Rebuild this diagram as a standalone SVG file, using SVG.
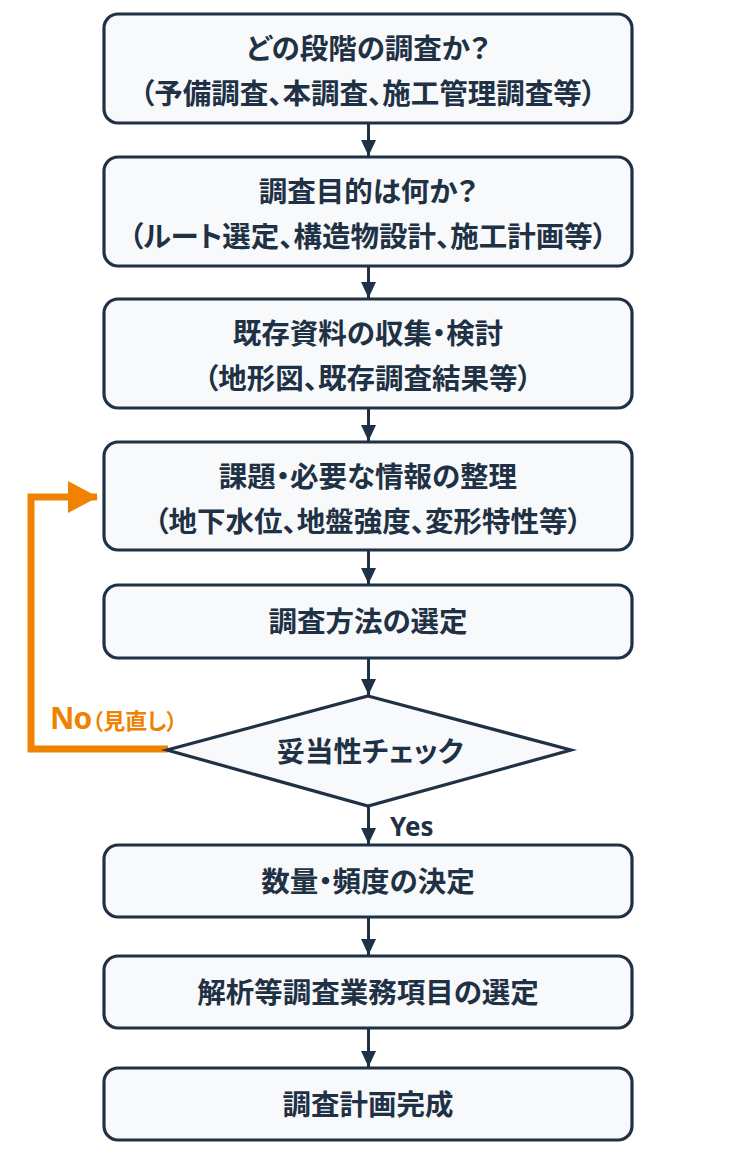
<svg xmlns="http://www.w3.org/2000/svg" width="736" height="1156" viewBox="0 0 736 1156">
<defs>
<style>
.box{fill:#f8f9fb;stroke:#1f3144;stroke-width:3.2}
.t{font-family:"Noto Sans CJK JP","Noto Sans",sans-serif;font-weight:700;font-size:28.5px;fill:#1f3144;text-anchor:middle;font-feature-settings:"palt" 1}
.conn{stroke:#1f3144;stroke-width:3;fill:none}
.no{font-family:"Noto Sans","Noto Sans CJK JP",sans-serif;font-weight:700;fill:#ef8200}
</style>
<marker id="ah" viewBox="0 0 16 15" refX="16" refY="7.5" markerWidth="16" markerHeight="15" markerUnits="userSpaceOnUse" orient="auto">
<path d="M0,0 L16,7.5 L0,15 Z" fill="#1f3144"/>
</marker>
<marker id="oh" viewBox="0 0 30 32" refX="29" refY="16" markerWidth="30" markerHeight="32" markerUnits="userSpaceOnUse" orient="auto">
<path d="M0,0 L30,16 L0,32 Z" fill="#ef8200"/>
</marker>
</defs>
<rect width="736" height="1156" fill="#ffffff"/>
<g id="connectors">
<line class="conn" x1="368.5" y1="124" x2="368.5" y2="156" marker-end="url(#ah)"/>
<line class="conn" x1="368.5" y1="267" x2="368.5" y2="298" marker-end="url(#ah)"/>
<line class="conn" x1="368.5" y1="409" x2="368.5" y2="441" marker-end="url(#ah)"/>
<line class="conn" x1="368.5" y1="551" x2="368.5" y2="584" marker-end="url(#ah)"/>
<line class="conn" x1="368.5" y1="659" x2="368.5" y2="695" marker-end="url(#ah)"/>
<line class="conn" x1="368.5" y1="807" x2="368.5" y2="844" marker-end="url(#ah)"/>
<line class="conn" x1="368.5" y1="918" x2="368.5" y2="955" marker-end="url(#ah)"/>
<line class="conn" x1="368.5" y1="1029" x2="368.5" y2="1067" marker-end="url(#ah)"/>
<path d="M168,749 H31 V497 H97" fill="none" stroke="#ef8200" stroke-width="7" marker-end="url(#oh)"/>
<text class="no" x="50" y="729" font-size="30" letter-spacing="-1">No<tspan font-size="22" font-family="Noto Sans CJK JP,sans-serif" letter-spacing="0" style="font-feature-settings:'palt' 1" dx="1">（見直し）</tspan></text>
<text class="t" x="390" y="836" style="text-anchor:start;font-family:'Noto Sans',sans-serif;font-size:26px">Yes</text>
</g>
<g id="n1"><rect class="box" x="104" y="14" width="528" height="109" rx="14"/>
<text class="t" x="368" y="59">どの段階の調査か？</text><text class="t" x="368" y="104">（予備調査、本調査、施工管理調査等）</text></g>
<g id="n2"><rect class="box" x="104" y="157" width="528" height="109" rx="14"/>
<text class="t" x="368" y="202">調査目的は何か？</text><text class="t" x="368" y="247">（ルート選定、構造物設計、施工計画等）</text></g>
<g id="n3"><rect class="box" x="104" y="299" width="528" height="109" rx="14"/>
<text class="t" x="368" y="344">既存資料の収集・検討</text><text class="t" x="368" y="389">（地形図、既存調査結果等）</text></g>
<g id="n4"><rect class="box" x="104" y="442" width="528" height="108" rx="14"/>
<text class="t" x="368" y="487">課題・必要な情報の整理</text><text class="t" x="368" y="532">（地下水位、地盤強度、変形特性等）</text></g>
<g id="n5"><rect class="box" x="104" y="585" width="528" height="73" rx="14"/>
<text class="t" x="368" y="632">調査方法の選定</text></g>
<g id="n6"><polygon class="box" points="368,696 571,750 368,806 167,750" stroke-linejoin="miter"/>
<text class="t" x="370" y="762">妥当性チェック</text></g>
<g id="n7"><rect class="box" x="104" y="845" width="528" height="72" rx="14"/>
<text class="t" x="368" y="892">数量・頻度の決定</text></g>
<g id="n8"><rect class="box" x="104" y="956" width="528" height="72" rx="14"/>
<text class="t" x="368" y="1003">解析等調査業務項目の選定</text></g>
<g id="n9"><rect class="box" x="104" y="1068" width="528" height="72" rx="14"/>
<text class="t" x="368" y="1115">調査計画完成</text></g>
</svg>
